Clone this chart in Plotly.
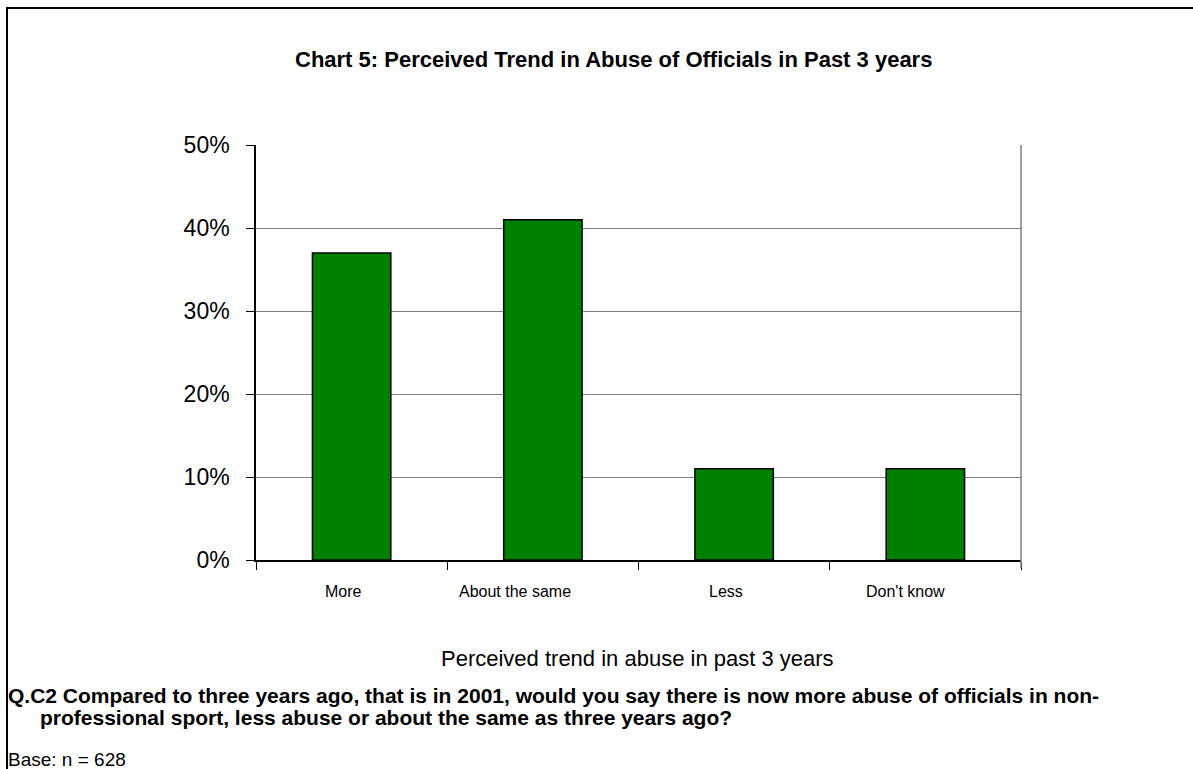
import plotly.graph_objects as go

categories = ["More", "About the same", "Less", "Don't know"]
values = [37, 41, 11, 11]
y_ticks = [0, 10, 20, 30, 40, 50]
y_tick_labels = ["0%", "10%", "20%", "30%", "40%", "50%"]

W, H = 1193, 769
L, R, T, B = 256, 1021, 145, 560

def px(x):
    return (x - L) / (R - L)

def py(y):
    return (B - y) / (B - T)

FONT = "Liberation Sans, Arial, sans-serif"

fig = go.Figure()
fig.add_trace(go.Bar(
    x=categories, y=values,
    marker=dict(color="#008000", line=dict(color="black", width=1.5)),
    width=0.41,
))

fig.update_layout(
    width=W, height=H,
    margin=dict(l=L, r=W - R, t=T, b=H - B, pad=0),
    paper_bgcolor="white", plot_bgcolor="white",
    showlegend=False,
    font=dict(family=FONT, color="black"),
    xaxis=dict(
        type="category", showline=True, linecolor="black", linewidth=1.5,
        ticks="outside", tickson="boundaries", ticklen=8, tickcolor="black",
        showticklabels=False,
        showgrid=False, fixedrange=True,
    ),
    yaxis=dict(
        range=[0, 50], tickvals=y_ticks, ticktext=y_tick_labels,
        showline=True, linecolor="black", linewidth=1.5,
        ticks="outside", ticklen=8, tickcolor="black",
        tickfont=dict(size=23, family=FONT, color="black"),
        showgrid=True, gridcolor="#808080", gridwidth=1,
        zeroline=False, fixedrange=True, ticklabelstandoff=12,
    ),
)

# category labels (Excel-style placement, slightly left of the bar centre)
for cat in categories:
    fig.add_annotation(
        text=cat, xref="x", yref="paper", x=cat, y=py(591),
        xanchor="center", yanchor="middle", xshift=-2 * len(cat),
        showarrow=False, font=dict(size=16, family=FONT, color="black"),
    )

# gray right border of plot area
fig.add_shape(type="line", xref="paper", yref="paper", x0=1, x1=1, y0=py(568), y1=1,
              line=dict(color="#808080", width=1.5))
# outer frame
fig.add_shape(type="rect", xref="paper", yref="paper",
              x0=px(7), x1=px(1210), y0=py(8), y1=py(790),
              line=dict(color="black", width=2), fillcolor="rgba(0,0,0,0)", layer="above")

def ann(text, x, y, size, xanchor="center", bold=False):
    fig.add_annotation(
        text=f"<b>{text}</b>" if bold else text,
        xref="paper", yref="paper", x=px(x), y=py(y),
        xanchor=xanchor, yanchor="middle", showarrow=False,
        font=dict(size=size, family=FONT, color="black"),
    )

ann("Chart 5: Perceived Trend in Abuse of Officials in Past 3 years", 613, 60, 22, bold=True)
ann("Perceived trend in abuse in past 3 years", 637, 658, 22)
ann("Q.C2 Compared to three years ago, that is in 2001, would you say there is now more abuse of officials in non-",
    6, 695, 21, xanchor="left", bold=True)
ann("professional sport, less abuse or about the same as three years ago?", 38, 717, 21, xanchor="left", bold=True)
ann("Base: n = 628", 6, 759, 19, xanchor="left")

fig.write_html(
    "out.html",
    config={"displayModeBar": False},
    post_script="document.body.style.margin='0';document.body.style.padding='0';document.body.style.overflow='hidden';",
)
